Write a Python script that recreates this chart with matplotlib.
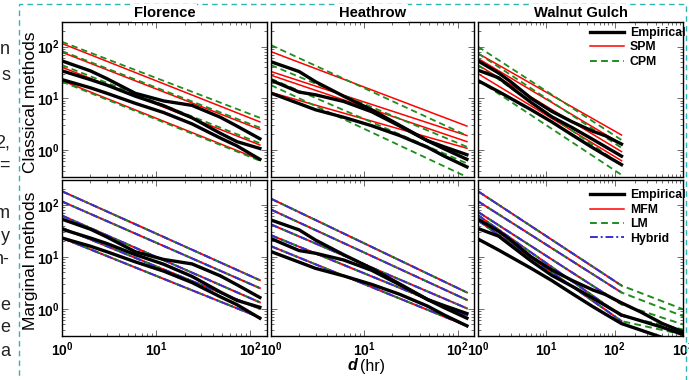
import math
import matplotlib
matplotlib.use('Agg')
import matplotlib.pyplot as plt
from matplotlib.ticker import LogLocator, FuncFormatter, NullFormatter
from matplotlib.lines import Line2D
from matplotlib.patches import Rectangle

plt.rcParams['font.family'] = ['Liberation Sans', 'DejaVu Sans']
plt.rcParams['mathtext.fontset'] = 'custom'
plt.rcParams['mathtext.rm'] = 'Liberation Sans'
plt.rcParams['mathtext.bf'] = 'Liberation Sans:bold'
plt.rcParams['mathtext.it'] = 'Liberation Sans:italic'

# ---------------- data ----------------
stations = ["Florence", "Heathrow", "Walnut Gulch"]
row_labels = ["Classical methods", "Marginal methods"]

d_emp = [1, 2, 3, 6, 12, 24, 48, 72, 126]
d_emp_wg = [1, 2, 3, 6, 12, 24, 48, 72, 126, 240, 500, 1000]
d_mod = [1, 126]
d_lm_wg = [1, 126, 1000]

flo_emp = [[53, 34, 24, 12.5, 8.9, 7.3, 4.3, 2.9, 1.65],
           [34, 23, 18, 11, 7.2, 4.2, 2.1, 1.45, 1.07],
           [23, 16, 12.5, 8, 5.3, 3.2, 1.7, 1.2, 0.66]]
hea_emp = [[51, 33, 21, 11, 6.0, 3.0, 1.5, 1.15, 0.81],
           [22.4, 13.2, 11.7, 8.7, 5.5, 2.9, 1.5, 1.05, 0.66],
           [12.6, 7.9, 6.0, 4.3, 2.95, 1.9, 1.12, 0.76, 0.47]]
wg_emp = [[53, 31, 21, 10, 5.6, 3.5, 2.3, 1.9, 1.3, 0.87, 0.52, 0.36],
          [35, 25, 16.6, 8.3, 4.4, 2.7, 1.6, 1.17, 0.76, 0.59, 0.44, 0.32],
          [22, 13.5, 10, 6, 3.5, 1.95, 1.1, 0.8, 0.52, 0.39, 0.28, 0.22]]

# classical methods (values at d_mod)
flo_spm = [[115, 3.5], [78, 2.5], [40, 1.25], [22, 0.65]]
flo_cpm = [[124, 4.2], [82, 2.7], [44, 1.35], [21, 0.62]]
hea_spm = [[80, 2.9], [33, 1.9], [28, 1.45], [13, 1.08]]
hea_cpm = [[107, 1.9], [44, 1.15], [24, 0.55], [18, 0.30]]
wg_spm = [[74, 1.95], [59, 1.3], [44, 0.93], [30, 0.62]]
wg_cpm = [[100, 1.56], [74, 1.1], [44, 0.51], [22.5, 0.33]]

# marginal methods (values at d_mod; LM at Walnut Gulch at d_lm_wg)
flo_mfm = [[182, 3.55], [116, 2.5], [62, 1.33], [36, 1.0], [23, 0.68]]
flo_lm = [[182, 3.55], [116, 2.5], [62, 1.33], [36, 1.0], [23, 0.68]]
flo_hyb = [[182, 3.55], [116, 2.5], [62, 1.33], [36, 1.0], [23, 0.68]]
hea_mfm = [[131, 2.06], [81, 1.48], [42, 1.02], [26, 0.75], [16, 0.47]]
hea_lm = [[131, 2.06], [81, 1.48], [42, 1.02], [26, 0.75], [16, 0.47]]
hea_hyb = [[131, 2.06], [81, 1.48], [42, 1.02], [26, 0.75], [16, 0.47]]
wg_mfm = [[182, 2.8], [117, 2.06], [73, 1.22], [63, 0.73], [50, 0.58]]
wg_lm = [[182, 2.8, 0.98], [117, 2.06, 0.72], [73, 1.22, 0.5], [63, 0.73, 0.4], [50, 0.58, 0.32]]
wg_hyb = [[182, 2.8], [117, 2.06], [73, 1.22], [63, 0.73], [50, 0.58]]

# ---------------- style ----------------
W, H = 689, 380
fig = plt.figure(figsize=(W / 100, H / 100), dpi=100)

BLACK = 'black'
RED = '#ff0000'
GREEN = '#1e8c1e'
BLUE = '#3a2fd0'
lw_emp = 2.4
lw_mod = 1.1
dash_g = (0, (3.5, 2.2))
dash_b = (0, (4, 1.5, 1, 1.5))


def px_axes(x0, x1, y0, y1):
    return fig.add_axes([x0 / W, 1 - y1 / H, (x1 - x0) / W, (y1 - y0) / H])


cols = [(62, 267), (271, 474), (478, 683)]
rows = [(22, 177), (180, 336)]

fmt = FuncFormatter(lambda v, p: r'$\mathbf{10^{%d}}$' % round(math.log10(v)))

axes = {}
for r, (y0, y1) in enumerate(rows):
    for c, (x0, x1) in enumerate(cols):
        ax = px_axes(x0, x1, y0, y1)
        ax.set_xscale('log')
        ax.set_yscale('log')
        ax.set_ylim(0.3, 300)
        ax.set_xlim(1, 1000 if c == 2 else 150)
        ax.xaxis.set_major_locator(LogLocator(base=10, numticks=10))
        ax.xaxis.set_minor_locator(LogLocator(base=10, subs=range(2, 10), numticks=10))
        ax.yaxis.set_major_locator(LogLocator(base=10, numticks=10))
        ax.yaxis.set_minor_locator(LogLocator(base=10, subs=range(2, 10), numticks=10))
        ax.tick_params(which='both', direction='in', top=True, right=True,
                       color='#555555', width=0.6)
        ax.tick_params(which='major', length=4)
        ax.tick_params(which='minor', length=2)
        ax.tick_params(axis='x', which='major', pad=3, labelsize=10)
        ax.tick_params(axis='y', which='major', pad=1.5, labelsize=10)
        for s in ax.spines.values():
            s.set_linewidth(1.0)
            s.set_color('black')
        if r == 1:
            ax.xaxis.set_major_formatter(fmt)
        else:
            ax.xaxis.set_major_formatter(NullFormatter())
        ax.xaxis.set_minor_formatter(NullFormatter())
        if c == 0:
            ax.yaxis.set_major_formatter(fmt)
        else:
            ax.yaxis.set_major_formatter(NullFormatter())
        ax.yaxis.set_minor_formatter(NullFormatter())
        axes[(r, c)] = ax

# ---------------- row 1: classical ----------------
classical = [(flo_emp, flo_spm, flo_cpm),
             (hea_emp, hea_spm, hea_cpm),
             (wg_emp, wg_spm, wg_cpm)]
for c, (emp, spm, cpm) in enumerate(classical):
    ax = axes[(0, c)]
    for v in spm:
        ax.plot(d_mod, v, color=RED, lw=lw_mod)
    for v in cpm:
        ax.plot(d_mod, v, color=GREEN, lw=lw_mod + 0.2, linestyle=dash_g)
    for v in emp:
        n = len(d_emp)
        ax.plot(d_emp, v[:n], color=BLACK, lw=lw_emp, solid_joinstyle='round')

# ---------------- row 2: marginal ----------------
marginal = [(flo_emp, flo_mfm, flo_lm, flo_hyb, d_emp, d_mod),
            (hea_emp, hea_mfm, hea_lm, hea_hyb, d_emp, d_mod),
            (wg_emp, wg_mfm, wg_lm, wg_hyb, d_emp_wg, d_lm_wg)]
for c, (emp, mfm, lm, hyb, de, dl) in enumerate(marginal):
    ax = axes[(1, c)]
    for v in mfm:
        ax.plot(d_mod, v, color=RED, lw=lw_mod + 0.3)
    for v in lm:
        ax.plot(dl, v, color=GREEN, lw=lw_mod + 0.3, linestyle=dash_g)
    for v in hyb:
        ax.plot(d_mod, v, color=BLUE, lw=lw_mod + 0.3, linestyle=dash_b)
    for v in emp:
        ax.plot(de, v, color=BLACK, lw=lw_emp, solid_joinstyle='round')

# ---------------- legends ----------------
leg_kw = dict(loc='upper left', frameon=False, borderpad=0, borderaxespad=0,
              handlelength=2.75, handletextpad=0.5, labelspacing=0.2,
              prop={'weight': 'bold', 'size': 8.8})
h1 = [Line2D([], [], color=BLACK, lw=lw_emp),
      Line2D([], [], color=RED, lw=lw_mod),
      Line2D([], [], color=GREEN, lw=lw_mod + 0.3, linestyle=dash_g)]
axes[(0, 2)].legend(h1, ["Empirical", "SPM", "CPM"],
                    bbox_to_anchor=(0.546, 0.968), **leg_kw)
h2 = [Line2D([], [], color=BLACK, lw=lw_emp),
      Line2D([], [], color=RED, lw=lw_mod),
      Line2D([], [], color=GREEN, lw=lw_mod + 0.3, linestyle=dash_g),
      Line2D([], [], color=BLUE, lw=lw_mod + 0.3, linestyle=dash_b)]
axes[(1, 2)].legend(h2, ["Empirical", "MFM", "LM", "Hybrid"],
                    bbox_to_anchor=(0.546, 0.94), **leg_kw)

# ---------------- titles / labels ----------------
for c, (x0, x1) in enumerate(cols):
    fig.text((x0 + x1) / 2 / W, 1 - 13 / H, stations[c], ha='center', va='center',
             fontsize=10.6, fontweight='bold',
             bbox=dict(facecolor='white', edgecolor='none', pad=1.5), zorder=10)

for r, (y0, y1) in enumerate(rows):
    fig.text(30.5 / W, 1 - ((y0 + y1) / 2 + 3) / H, row_labels[r], rotation=90,
             ha='center', va='center', fontsize=12.5)

fig.text(357 / W, 1 - 366 / H, 'd', ha='right', va='center', fontsize=11.5,
         fontweight='bold', fontstyle='italic')
fig.text(360 / W, 1 - 366 / H, '(hr)', ha='left', va='center', fontsize=11.5)

# ---------------- surrounding page elements ----------------
fig.patches.append(Rectangle((19 / W, 1 - 420 / H), (686 - 19) / W, (420 - 4) / H,
                             transform=fig.transFigure, fill=False,
                             edgecolor='#2fb5b5', lw=1.0, linestyle=(0, (4, 3))))
frag = [("n", 50), ("s", 76), ("2,", 143), ("=", 165), ("m", 213), ("y", 236),
        ("n-", 259), ("e", 306), ("e", 328), ("a", 351)]
for t, y in frag:
    fig.text(10 / W, 1 - y / H, t, ha='right', va='center', fontsize=13, color='#222222')

fig.savefig('out.png', dpi=100)
